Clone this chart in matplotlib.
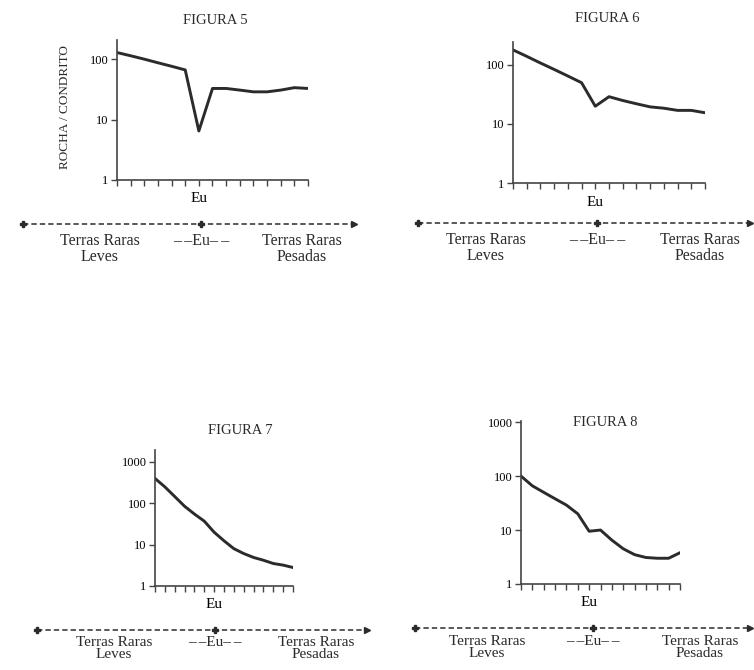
import matplotlib

matplotlib.use('Agg')
import matplotlib.pyplot as plt
from matplotlib.lines import Line2D

# Chondrite-normalized REE patterns
ree = ['La', 'Ce', 'Pr', 'Nd', 'Pm', 'Sm', 'Eu', 'Gd', 'Tb', 'Dy', 'Ho', 'Er', 'Tm', 'Yb', 'Lu']
fig5 = [130, 115, 101, 88, 77, 67, 6.5, 33, 33, 31, 29, 29, 31, 34, 33]
fig6 = [180, 140, 108, 84, 65, 50, 20, 29, 25, 22, 19.5, 18.5, 17, 17, 15.5]
fig7 = [400, 250, 146, 85, 55, 37, 20, 12.4, 8, 6.1, 4.9, 4.2, 3.5, 3.2, 2.8]
fig8 = [100, 66, 50, 38, 29, 20, 9.5, 10, 6.5, 4.5, 3.5, 3.1, 3.0, 3.0, 3.8]

titles = ['FIGURA 5', 'FIGURA 6', 'FIGURA 7', 'FIGURA 8']
yticks_small = [1, 10, 100]
yticks_big = [1, 10, 100, 1000]

W, H = 754, 670
SERIF = ['Liberation Serif', 'DejaVu Serif']
INK = '#2b2b2b'
EU_MID = '\u2013\u2009\u2013Eu\u2013\u2009\u2013'

plt.rcParams['font.family'] = SERIF
plt.rcParams['text.color'] = INK


def fx(px):
    return px / W


def fy(py):
    return 1 - py / H


def panel(fig, box, values, ylim, yticks, title, title_xy, ylabel=None):
    l, r, b, t = box
    ax = fig.add_axes([fx(l), fy(b), fx(r) - fx(l), fy(t) - fy(b)])
    x = list(range(len(ree)))
    ax.plot(x, values, color=INK, lw=2.1, solid_joinstyle='round')
    ax.set_yscale('log')
    ax.set_xlim(0, len(ree) - 1)
    ax.set_ylim(*ylim)
    ax.set_yticks(yticks)
    ax.set_yticklabels([str(v) for v in yticks])
    ax.minorticks_off()
    ax.set_xticks(x)
    ax.set_xticklabels(['Eu' if e == 'Eu' else '' for e in ree], fontsize=11)
    for s in ['top', 'right']:
        ax.spines[s].set_visible(False)
    for s in ['left', 'bottom']:
        ax.spines[s].set_color('#444444')
        ax.spines[s].set_linewidth(1.2)
    ax.tick_params(axis='y', length=4, width=1, color='#444444', labelsize=9, pad=2)
    ax.tick_params(axis='x', length=4, width=1, color='#444444', pad=5)
    fig.text(fx(title_xy[0]), fy(title_xy[1]), title, ha='center', va='center', fontsize=10.5)
    if ylabel:
        fig.text(fx(65), fy(107), ylabel, rotation=90, ha='center', va='center', fontsize=9.5)
    return ax


def ree_bar(fig, x0, x1, xeu, y, xl, xr, ty, fs=11.5, ls=1.0):
    # dashed light/heavy REE bar under each diagram
    fig.add_artist(Line2D([fx(x0), fx(x1 - 4)], [fy(y), fy(y)], transform=fig.transFigure,
                          color=INK, lw=1.1, dashes=(3.5, 2)))
    fig.add_artist(Line2D([fx(x0), fx(xeu)], [fy(y), fy(y)], transform=fig.transFigure,
                          ls='none', marker='P', ms=5, color=INK))
    fig.add_artist(Line2D([fx(x1 - 3)], [fy(y)], transform=fig.transFigure,
                          ls='none', marker='>', ms=4, color=INK))
    fig.text(fx(xl), fy(ty), 'Terras Raras\nLeves', ha='center', va='top',
             fontsize=fs, linespacing=ls, multialignment='center')
    fig.text(fx(xeu), fy(ty), EU_MID, ha='center', va='top', fontsize=fs)
    fig.text(fx(xr), fy(ty), 'Terras Raras\nPesadas', ha='center', va='top',
             fontsize=fs, linespacing=ls, multialignment='center')


fig = plt.figure(figsize=(W / 100, H / 100), dpi=100)

panel(fig, (117, 308, 180, 40), fig5, (1, 210), yticks_small, titles[0], (215, 20),
      ylabel='ROCHA / CONDRITO')
panel(fig, (513, 705, 183, 42), fig6, (1, 245), yticks_small, titles[1], (607, 18))
panel(fig, (155, 293, 586, 450), fig7, (1, 1950), yticks_big, titles[2], (240, 430))
panel(fig, (521, 680, 584, 421), fig8, (1, 1050), yticks_big, titles[3], (605, 422))

ree_bar(fig, 23, 357, 201, 224, 100, 302, 233)
ree_bar(fig, 418, 753, 597, 223, 486, 700, 232)
ree_bar(fig, 37, 370, 215, 630, 114, 316, 636, fs=11, ls=0.9)
ree_bar(fig, 415, 753, 593, 628, 487, 700, 635, fs=11, ls=0.9)

fig.savefig('out.png', dpi=100)
plt.close(fig)
